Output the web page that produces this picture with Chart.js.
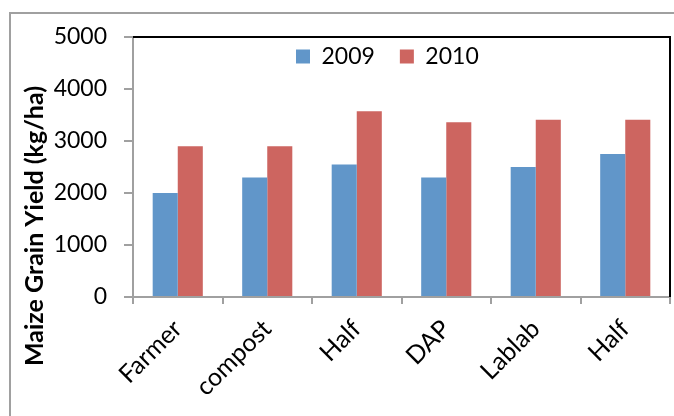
<!DOCTYPE html>
<html><head><meta charset="utf-8">
<script src="https://cdn.jsdelivr.net/npm/chart.js@4.4.1/dist/chart.umd.min.js"></script>
<style>html,body{margin:0;padding:0;background:#fff;}#wrap{width:674px;height:416px;}</style>
</head><body><div id="wrap"><canvas id="c" width="674" height="416"></canvas></div>
<script>
const categories = ['Farmer','compost','Half','DAP','Lablab','Half'];
const seriesNames = ['2009','2010'];
const yield2009 = [2000, 2300, 2550, 2300, 2500, 2750];
const yield2010 = [2900, 2900, 3570, 3360, 3410, 3410];
const yTickValues = [0, 1000, 2000, 3000, 4000, 5000];
const axisTitle = 'Maize Grain Yield (kg/ha)';

const FONT = 'Lato';
const GRAY = '#A0A0A0';

const decor = {
  id: 'decor',
  beforeLayout(chart) {
    const lg = chart.legend;
    if (lg && !lg.__patched) {
      const f = lg.fit;
      lg.fit = function () { f.call(this); this.__h = this.height; this.height = 0; };
      lg.__patched = true;
    }
  },
  afterLayout(chart) {
    const lg = chart.legend;
    if (!lg) return;
    lg.left = 271; lg.right = 600; lg.width = lg.right - lg.left;
    lg.top = 20; lg.height = lg.__h; lg.bottom = lg.top + lg.__h;
  },
  beforeDraw(chart) {
    const ctx = chart.ctx;
    ctx.save();
    ctx.strokeStyle = GRAY; ctx.lineWidth = 2;
    ctx.strokeRect(10, 13, 800, 600);
    ctx.restore();
  },
  afterDatasetsDraw(chart) {
    const {ctx, chartArea: a} = chart;
    ctx.save();
    ctx.strokeStyle = '#000'; ctx.lineWidth = 2;
    ctx.beginPath();
    ctx.moveTo(a.left, a.top); ctx.lineTo(a.right, a.top); ctx.lineTo(a.right, a.bottom);
    ctx.stroke();
    ctx.restore();
  },
  afterDraw(chart) {
    const ctx = chart.ctx;
    ctx.save();
    ctx.translate(35, 226);
    ctx.rotate(-Math.PI / 2);
    ctx.font = 'bold 25px ' + FONT;
    ctx.fillStyle = '#000';
    ctx.textAlign = 'center';
    ctx.textBaseline = 'middle';
    ctx.fillText(axisTitle, 0, 0);
    ctx.restore();
  }
};

new Chart(document.getElementById('c'), {
  type: 'bar',
  data: {
    labels: categories,
    datasets: [
      { label: seriesNames[0], data: yield2009, backgroundColor: '#6196C9', borderWidth: 0 },
      { label: seriesNames[1], data: yield2010, backgroundColor: '#CD6560', borderWidth: 0 }
    ]
  },
  options: {
    responsive: false,
    animation: false,
    devicePixelRatio: 1,
    categoryPercentage: 0.56,
    barPercentage: 1.0,
    layout: { padding: { top: 37, right: 4, left: 0, bottom: 0 } },
    plugins: {
      tooltip: { enabled: false },
      legend: {
        position: 'top',
        align: 'start',
        labels: {
          font: { family: FONT, size: 23 },
          color: '#000',
          boxWidth: 14, boxHeight: 14, padding: 25
        }
      }
    },
    scales: {
      x: {
        grid: { drawOnChartArea: false, offset: true, tickLength: 7, color: GRAY, lineWidth: 2 },
        border: { color: GRAY, width: 2 },
        ticks: { font: { family: FONT, size: 25 }, color: '#000', minRotation: 45, maxRotation: 45, padding: 10, autoSkip: false },
        afterFit(s) { s.height = 119; }
      },
      y: {
        min: 0, max: 5000,
        afterBuildTicks(s) { s.ticks = yTickValues.map(v => ({ value: v })); },
        grid: { drawOnChartArea: false, tickLength: 9, color: GRAY, lineWidth: 2 },
        border: { color: GRAY, width: 2 },
        ticks: { font: { family: FONT, size: 23 }, color: '#000', padding: 17, callback: v => String(v) },
        afterFit(s) { s.width = 133; }
      }
    }
  },
  plugins: [decor]
});
</script>
</body></html>
